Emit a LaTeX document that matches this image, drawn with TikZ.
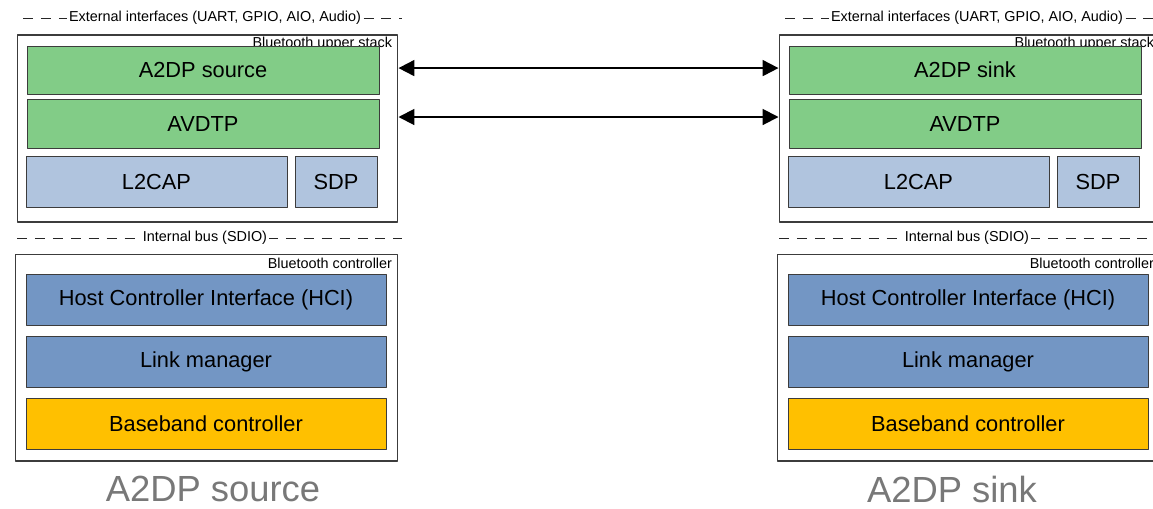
\documentclass[tikz,border=0pt]{standalone}
\usepackage{fontspec}
\setmainfont{Liberation Sans}
\usetikzlibrary{arrows.meta}
\definecolor{profgreen}{RGB}{130,204,135}
\definecolor{l2cblue}{RGB}{176,196,222}
\definecolor{hciblue}{RGB}{115,150,196}
\definecolor{bbgold}{RGB}{255,192,0}
\definecolor{framegray}{RGB}{60,60,60}
\definecolor{titlegray}{RGB}{120,120,120}
\begin{document}
\begin{tikzpicture}[x=0.02cm,y=-0.02cm,line join=round,>={Triangle[length=9pt,width=9pt]}]
\tikzset{layer/.style={draw=framegray,line width=0.5pt,inner sep=0pt,font=\fontsize{12.4}{14}\selectfont},
frame/.style={draw=framegray,line width=0.6pt,inner sep=0pt},
tag/.style={inner sep=1pt,font=\fontsize{8.2}{9}\selectfont},
bus/.style={draw=black!85,line width=0.5pt,dash pattern=on 5.7pt off 4.5pt},
buslabel/.style={fill=white,inner sep=1pt,font=\fontsize{8.2}{9}\selectfont},
title/.style={text=titlegray,inner sep=0pt,font=\fontsize{20.7}{24}\selectfont}}
\useasboundingbox (0,0) rectangle (1153,508);
\foreach \s/\dx/\name/\tx in {L/0/source/213,R/762/sink/952}{
% host side
\draw[bus] (23+\dx,18)--(402+\dx,18);
\node[buslabel] (ext\s) at (215+\dx,18) {External interfaces (UART, GPIO, AIO, Audio)};
\node[frame,minimum width=7.62cm,minimum height=3.74cm] (up\s) at (207.5+\dx,128.5) {};
\node[tag,anchor=north east] (uptag\s) at ([xshift=-2.5pt]up\s.north east) {Bluetooth upper stack};
\node[layer,fill=profgreen,minimum width=7.04cm,minimum height=0.96cm] (a2dp\s) at (203+\dx,70) {A2DP \name};
\node[layer,fill=profgreen,minimum width=7.04cm,minimum height=0.98cm] (avdtp\s) at (203+\dx,123.5) {AVDTP};
\node[layer,fill=l2cblue,minimum width=5.22cm,minimum height=1.02cm] (l2cap\s) at (156.5+\dx,181.5) {L2CAP};
\node[layer,fill=l2cblue,minimum width=1.64cm,minimum height=1.02cm] (sdp\s) at (336+\dx,181.5) {SDP};
% controller side
\draw[bus] (17+\dx,238)--(402+\dx,238);
\node[buslabel] (int\s) at (205+\dx,238) {Internal bus (SDIO)};
\node[frame,minimum width=7.66cm,minimum height=4.14cm] (ctl\s) at (206.5+\dx,357.5) {};
\node[tag,anchor=north east] (ctltag\s) at ([xshift=-2.5pt,yshift=-1.5pt]ctl\s.north east) {Bluetooth controller};
\node[layer,fill=hciblue,minimum width=7.2cm,minimum height=1.02cm] (hci\s) at (206+\dx,299.5) {Host Controller Interface (HCI)};
\node[layer,fill=hciblue,minimum width=7.2cm,minimum height=1.02cm] (lm\s) at (206+\dx,361.5) {Link manager};
\node[layer,fill=bbgold,minimum width=7.2cm,minimum height=1.02cm] (bb\s) at (206+\dx,423.5) {Baseband controller};
\node[title] (name\s) at (\tx,489) {A2DP \name};
}
\draw[<->,line width=1.1pt] ([yshift=1.1pt]upL.east |- a2dpL.east)--([yshift=1.1pt]upR.west |- a2dpR.west);
\draw[<->,line width=1.1pt] ([yshift=3.7pt]upL.east |- avdtpL.east)--([yshift=3.7pt]upR.west |- avdtpR.west);
\end{tikzpicture}
\end{document}
